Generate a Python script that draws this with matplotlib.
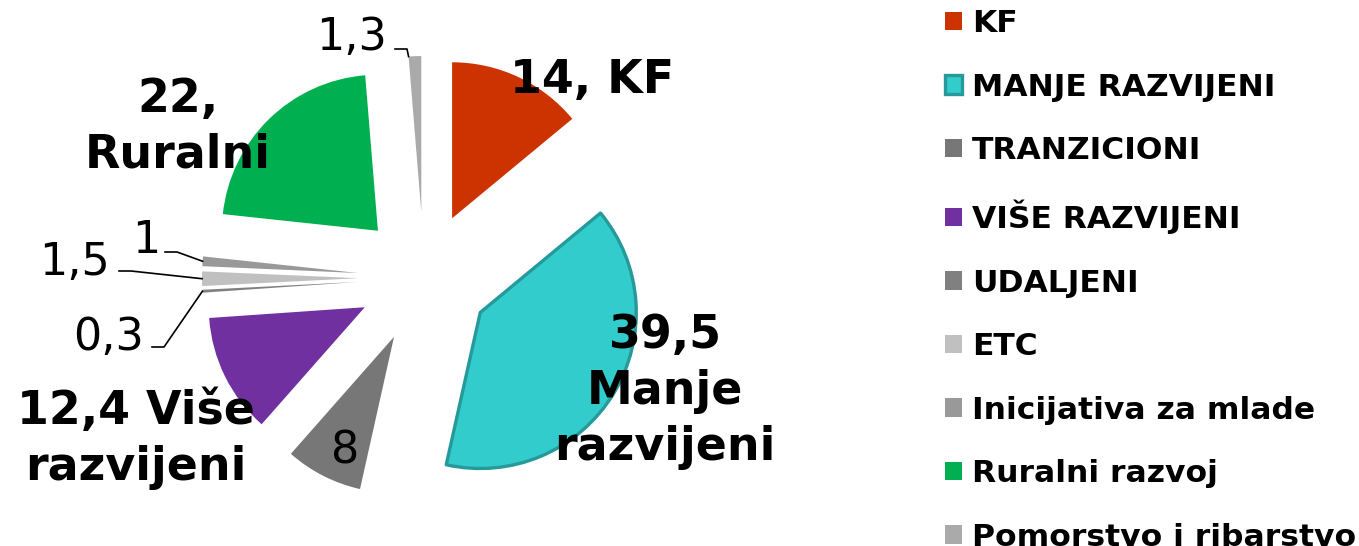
import matplotlib
matplotlib.use("Agg")
import matplotlib.pyplot as plt
import numpy as np

# shares of funds (%)
categories = ["KF", "MANJE RAZVIJENI", "TRANZICIONI", "VIŠE RAZVIJENI", "UDALJENI",
              "ETC", "Inicijativa za mlade", "Ruralni razvoj", "Pomorstvo i ribarstvo"]
values = [14, 39.5, 8, 12.4, 0.3, 1.5, 1, 22, 1.3]
slice_labels = ["14, KF", "39,5\nManje\nrazvijeni", "8", "12,4 Više\nrazvijeni", "0,3",
                "1,5", "1", "22,\nRuralni", "1,3"]

colors = ["#CC3300", "#33CCCC", "#777777", "#7030A0", "#808080",
          "#C0C0C0", "#999999", "#00B050", "#AAAAAA"]

W, H = 1359, 546
fig = plt.figure(figsize=(W / 100, H / 100), dpi=100)
ax = fig.add_axes([0, 0, 1, 1])

R = 156
C = (424, H - 278)
wedges, _ = ax.pie(values, colors=colors, explode=[66] * len(values), startangle=90,
                   counterclock=False, radius=R, center=C,
                   wedgeprops=dict(linewidth=0))
wedges[1].set_edgecolor("#26999A")
wedges[1].set_linewidth(2.4)
wedges[1].set_joinstyle("round")

ax.set_xlim(0, W)
ax.set_ylim(0, H)
ax.axis("off")

# label placement (pixel coords from top-left): x, baseline of last line, bold
label_pos = [(592, 93, True), (665, 460, True), (345, 463, False), (136, 480, True),
             (109, 350, False), (75, 275, False), (146, 253, False), (178, 168, True),
             (352, 50, False)]
for txt, (px, py, bold) in zip(slice_labels, label_pos):
    ax.text(px, H - py, txt, ha="center", va="baseline", multialignment="center",
            fontsize=33 if bold else 32, fontweight="bold" if bold else "normal",
            linespacing=1.32, color="black")

# leader lines for small slices: start of line next to the label
leaders = {4: (152, 347), 5: (119, 271), 6: (165, 252), 8: (395, 49)}
for i, (sx, sy) in leaders.items():
    w = wedges[i]
    if i == 8:
        th = np.deg2rad(w.theta2)
    else:
        th = np.deg2rad(0.5 * (w.theta1 + w.theta2))
    ex = w.center[0] + w.r * np.cos(th)
    ey = w.center[1] + w.r * np.sin(th)
    ax.plot([sx, sx + 12, ex], [H - sy, H - sy, ey], color="black", lw=1.2)

fig.legend(wedges, categories, loc="upper left",
           bbox_to_anchor=(945 / W, 1 - 9 / H), frameon=False,
           prop=dict(weight="bold", size=22.6), handlelength=0.54, handleheight=0.54,
           handletextpad=0.32, labelspacing=1.1, borderpad=0, borderaxespad=0)

fig.savefig("out.png", dpi=100)
